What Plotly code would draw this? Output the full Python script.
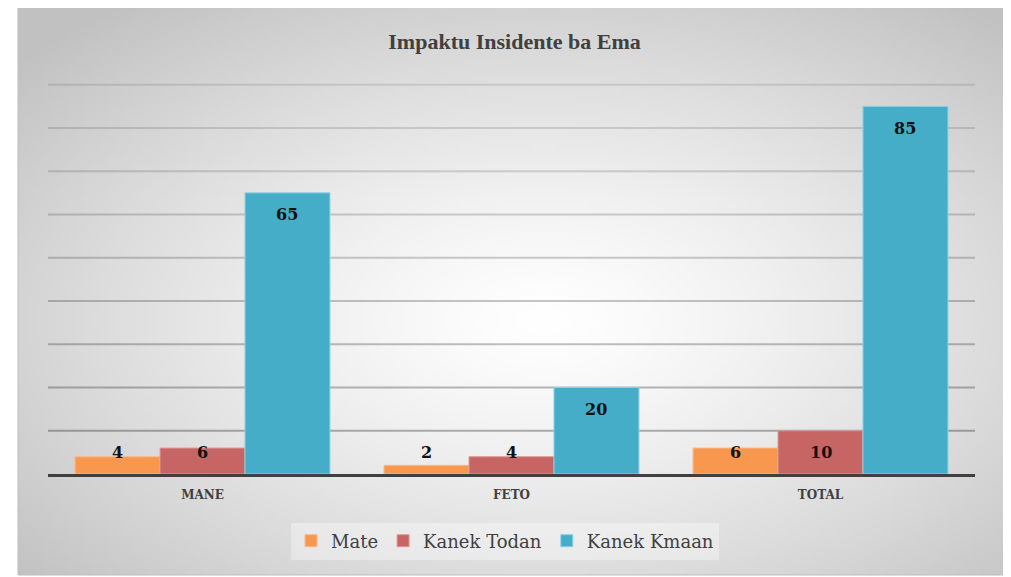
"""Impaktu Insidente ba Ema — grouped bars, Excel-style look."""
import base64
import struct
import zlib

import numpy as np
import plotly.graph_objects as go

categories = ["MANE", "FETO", "TOTAL"]
series_names = ["Mate", "Kanek Todan", "Kanek Kmaan"]
mate = [4, 2, 6]
kanek_todan = [6, 4, 10]
kanek_kmaan = [65, 20, 85]
grid_values = [10, 20, 30, 40, 50, 60, 70, 80, 90]

COLORS = ["#f7984e", "#c66563", "#45adc8"]
LINES = ["#fbb98a", "#dc9a98", "#8fd0e2"]

# page body has an 8px margin, so the figure is a bit smaller than the window
OFF = 8
W, H = 1011 - OFF, 577 - OFF
M = dict(l=40, r=36, t=75, b=103)
BARGAP = 0.175
YMAX = 90.4


def _png_gray(arr):
    """Minimal grayscale PNG encoder -> data URI."""
    h, w = arr.shape
    raw = b"".join(b"\x00" + arr[i].astype(np.uint8).tobytes() for i in range(h))

    def chunk(tag, data):
        c = struct.pack(">I", len(data)) + tag + data
        return c + struct.pack(">I", zlib.crc32(tag + data) & 0xffffffff)

    png = b"\x89PNG\r\n\x1a\n"
    png += chunk(b"IHDR", struct.pack(">IIBBBBB", w, h, 8, 0, 0, 0, 0))
    png += chunk(b"IDAT", zlib.compress(raw, 9))
    png += chunk(b"IEND", b"")
    return "data:image/png;base64," + base64.b64encode(png).decode()


def _radial_bg(w=240, h=140):
    yy, xx = np.mgrid[0:h, 0:w]
    cx, cy = w * 0.53, h * 0.55
    r = np.sqrt(((xx - cx) / (w / 2)) ** 2 + ((yy - cy) / (h / 2)) ** 2) / np.sqrt(2)
    r = np.clip(r, 0, 1)
    return 255 - 62 * r ** 1.3


fig = go.Figure()
for name, vals, col, lc in zip(series_names, [mate, kanek_todan, kanek_kmaan], COLORS, LINES):
    fig.add_trace(go.Bar(
        name=name, x=categories, y=vals,
        marker=dict(color=col, line=dict(color=lc, width=1)),
    ))

# data labels (Excel "inside end", clamped near the baseline for short bars)
pw = W - M["l"] - M["r"]
bar_px = pw / len(categories) * (1 - BARGAP) / len(series_names)
annotations = []
for i, vals in enumerate([mate, kanek_todan, kanek_kmaan]):
    for cat, v in zip(categories, vals):
        annotations.append(dict(
            x=cat, y=max(v, 10), xref="x", yref="y",
            xshift=(i - 1) * bar_px, yshift=-22,
            text=f"<b>{v}</b>", showarrow=False, yanchor="middle",
            font=dict(family="DejaVu Serif", size=16, color="#111111"),
        ))

# gridlines fade out towards the top, like the source chart
shapes = []
for g in grid_values:
    a = 0.10 + 0.22 * (1 - g / max(grid_values))
    shapes.append(dict(type="line", xref="paper", yref="y", x0=0, x1=1, y0=g, y1=g,
                       line=dict(color=f"rgba(0,0,0,{a:.3f})", width=2), layer="below"))

ph = H - M["t"] - M["b"]
bx0, bx1, by0, by1 = 18 - OFF, 1006 - OFF, 5 - OFF, 575 - OFF
fig.add_layout_image(dict(
    source=_png_gray(_radial_bg()), xref="paper", yref="paper",
    x=(bx0 - M["l"]) / pw, y=(H - M["b"] - by0) / ph,
    sizex=(bx1 - bx0) / pw, sizey=(by1 - by0) / ph,
    sizing="stretch", layer="below", xanchor="left", yanchor="top",
))
shapes.append(dict(type="rect", xref="paper", yref="paper",
                   x0=(bx0 - M["l"]) / pw, x1=(bx1 - M["l"]) / pw,
                   y0=(H - M["b"] - by1) / ph, y1=(H - M["b"] - by0) / ph,
                   line=dict(color="#bdbdbd", width=1), layer="below"))

fig.update_layout(
    width=W, height=H, margin=M,
    paper_bgcolor="white", plot_bgcolor="rgba(0,0,0,0)",
    barmode="group", bargap=BARGAP, bargroupgap=0,
    title=dict(text="<b>Impaktu Insidente ba Ema</b>", x=0.505, xanchor="center",
               y=1 - (41 - OFF) / H, yanchor="middle",
               font=dict(family="Liberation Serif", size=22, color="#404040")),
    xaxis=dict(showline=True, linecolor="#404040", linewidth=3,
               ticks="outside", ticklen=8, tickcolor="rgba(0,0,0,0)",
               tickfont=dict(family="DejaVu Serif", size=12, color="#404040", weight="bold")),
    yaxis=dict(range=[0, YMAX], showticklabels=False, showgrid=False, zeroline=False),
    legend=dict(orientation="h", x=0.493, xanchor="center",
                y=(H - M["b"] - (541 - OFF)) / ph,
                yanchor="middle", bgcolor="rgba(255,255,255,0.35)",
                font=dict(family="DejaVu Serif", size=18, color="#404040"),
                itemwidth=30),
    annotations=annotations,
    shapes=shapes,
    showlegend=True,
)

fig.write_html("out.html")
